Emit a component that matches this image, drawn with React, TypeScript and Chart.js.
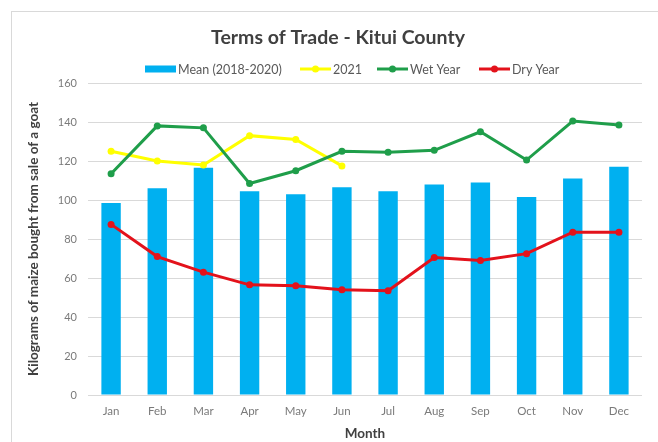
import React, { useEffect, useRef } from 'react';
import { Chart, registerables } from 'chart.js';

Chart.register(...registerables);

const months = ['Jan', 'Feb', 'Mar', 'Apr', 'May', 'Jun', 'Jul', 'Aug', 'Sep', 'Oct', 'Nov', 'Dec'];
const meanValues = [98.5, 106, 116.5, 104.5, 103, 106.5, 104.5, 108, 109, 101.5, 111, 117];
const values2021 = [125, 120, 118, 133, 131, 117.5, null, null, null, null, null, null];
const wetYear = [113.5, 138, 137, 108.5, 115, 125, 124.5, 125.5, 135, 120.5, 140.5, 138.5];
const dryYear = [87.5, 71, 63, 56.5, 56, 54, 53.5, 70.5, 69, 72.5, 83.5, 83.5];
const yTicks = [0, 20, 40, 60, 80, 100, 120, 140, 160];

const titleText = 'Terms of Trade - Kitui County';
const yTitle = 'Kilograms of maize bought from sale of a goat';
const xTitle = 'Month';

const BLUE = '#00b0f0';
const YELLOW = '#ffff00';
const GREEN = '#1f9e4a';
const RED = '#e3121b';

const legendItems = [
  { label: 'Mean (2018-2020)', color: BLUE, kind: 'bar', x: 145 },
  { label: '2021', color: YELLOW, kind: 'line', x: 300 },
  { label: 'Wet Year', color: GREEN, kind: 'line', x: 377 },
  { label: 'Dry Year', color: RED, kind: 'line', x: 479 },
];

const decorPlugin = {
  id: 'decor',
  beforeDraw(chart: any) {
    const ctx = chart.ctx;
    ctx.save();
    ctx.fillStyle = '#ffffff';
    ctx.fillRect(0, 0, chart.width, chart.height);
    ctx.strokeStyle = '#d9d9d9';
    ctx.lineWidth = 1;
    ctx.strokeRect(11.5, 11.5, 800, 600);
    ctx.restore();
  },
  afterDraw(chart: any) {
    const ctx = chart.ctx;
    ctx.save();
    ctx.fillStyle = '#404040';
    ctx.font = 'bold 19.5px Lato';
    ctx.textAlign = 'center';
    ctx.textBaseline = 'middle';
    ctx.fillText(titleText, 338, 38);

    ctx.font = '12.5px Lato';
    ctx.textAlign = 'left';
    const y = 69;
    legendItems.forEach((it) => {
      const w = 31;
      if (it.kind === 'bar') {
        ctx.fillStyle = it.color;
        ctx.fillRect(it.x, y - 3.5, w, 7);
      } else {
        ctx.strokeStyle = it.color;
        ctx.lineWidth = 3;
        ctx.beginPath();
        ctx.moveTo(it.x, y);
        ctx.lineTo(it.x + w, y);
        ctx.stroke();
        ctx.fillStyle = it.color;
        ctx.beginPath();
        ctx.arc(it.x + w / 2, y, 3.5, 0, Math.PI * 2);
        ctx.fill();
      }
      ctx.fillStyle = '#595959';
      ctx.fillText(it.label, it.x + w + 2, y + 0.5);
    });
    ctx.restore();
  },
};

export default function App() {
  const ref = useRef<HTMLCanvasElement | null>(null);

  useEffect(() => {
    document.body.style.margin = '0';
    const canvas = ref.current;
    if (!canvas) return;
    const chart = new Chart(canvas, {
      type: 'bar',
      data: {
        labels: months,
        datasets: [
          {
            type: 'bar',
            label: 'Mean (2018-2020)',
            data: meanValues,
            backgroundColor: BLUE,
            borderWidth: 0,
            barPercentage: 0.42,
            categoryPercentage: 1,
            order: 4,
          },
          {
            type: 'line',
            label: '2021',
            data: values2021,
            borderColor: YELLOW,
            backgroundColor: YELLOW,
            borderWidth: 3,
            pointRadius: 3.5,
            pointBorderWidth: 0,
            tension: 0,
            spanGaps: false,
            order: 3,
          },
          {
            type: 'line',
            label: 'Wet Year',
            data: wetYear,
            borderColor: GREEN,
            backgroundColor: GREEN,
            borderWidth: 3,
            pointRadius: 3.5,
            pointBorderWidth: 0,
            tension: 0,
            order: 2,
          },
          {
            type: 'line',
            label: 'Dry Year',
            data: dryYear,
            borderColor: RED,
            backgroundColor: RED,
            borderWidth: 3,
            pointRadius: 3.5,
            pointBorderWidth: 0,
            tension: 0,
            order: 1,
          },
        ],
      },
      options: {
        responsive: false,
        animation: false,
        devicePixelRatio: 1,
        layout: { padding: { top: 83, left: 22, right: 16, bottom: 0 } },
        plugins: {
          legend: { display: false },
          title: { display: false },
          tooltip: { enabled: false },
        },
        scales: {
          x: {
            grid: { display: false, drawTicks: false },
            border: { display: false },
            ticks: {
              color: '#7a7a7a',
              font: { family: 'Lato', size: 11.5 },
              padding: 9,
            },
            title: {
              display: true,
              text: xTitle,
              color: '#404040',
              font: { family: 'Lato', size: 13.5, weight: 'bold' },
              padding: { top: 0, bottom: 0 },
            },
            afterFit(scale: any) {
              scale.height = 47;
            },
          },
          y: {
            min: 0,
            max: 160,
            afterBuildTicks(scale: any) {
              scale.ticks = yTicks.map((v) => ({ value: v }));
            },
            grid: { color: '#d9d9d9', drawTicks: false, lineWidth: 1 },
            border: { display: false },
            ticks: {
              color: '#7a7a7a',
              font: { family: 'Lato', size: 11 },
              padding: 11,
            },
            title: {
              display: true,
              text: yTitle,
              color: '#404040',
              font: { family: 'Lato', size: 13.5, weight: 'bold' },
              padding: { top: 4, bottom: 0 },
            },
            afterFit(scale: any) {
              scale.width = 66;
            },
          },
        },
      },
      plugins: [decorPlugin],
    });
    return () => chart.destroy();
  }, []);

  return (
    <div style={{ position: 'relative', width: 658, height: 442, overflow: 'hidden', background: '#fff' }}>
      <canvas ref={ref} width={658} height={442} style={{ width: 658, height: 442, display: 'block' }} />
    </div>
  );
}
